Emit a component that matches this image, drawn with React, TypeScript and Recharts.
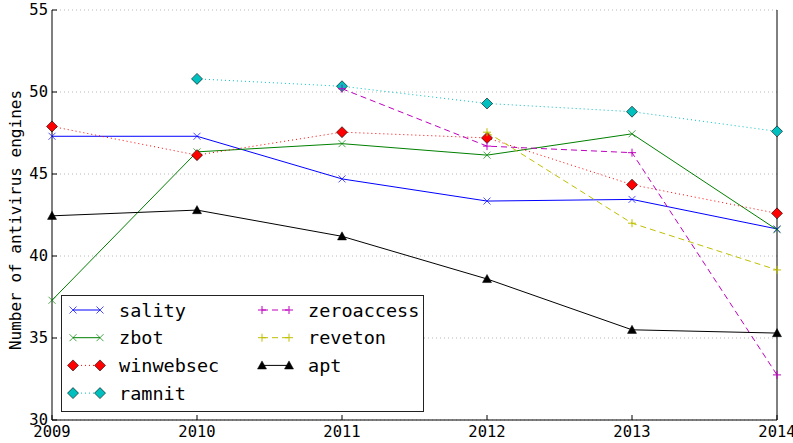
import React from 'react';
import {
  LineChart,
  Line,
  XAxis,
  YAxis,
  CartesianGrid,
  Legend,
} from 'recharts';

if (typeof document !== 'undefined') document.body.style.margin = '0';

// values
const years = [2009, 2010, 2011, 2012, 2013, 2014];
const sality = [47.3, 47.3, 44.7, 43.35, 43.45, 41.65];
const zbot = [37.3, 46.35, 46.85, 46.15, 47.45, 41.6];
const winwebsec = [47.9, 46.15, 47.55, 47.2, 44.35, 42.6];
const ramnit = [null, 50.8, 50.35, 49.3, 48.8, 47.6];
const zeroaccess = [null, null, 50.2, 46.7, 46.3, 32.75];
const reveton = [null, null, null, 47.55, 42.0, 39.15];
const apt = [42.45, 42.8, 41.2, 38.6, 35.5, 35.3];

const yTicks = [30, 35, 40, 45, 50, 55];

type Marker = 'x' | 'diamond' | 'plus' | 'triangle';

const SERIES: { key: string; values: (number | null)[]; color: string; dash?: string; marker: Marker }[] = [
  { key: 'sality', values: sality, color: '#0000ff', marker: 'x' },
  { key: 'zbot', values: zbot, color: '#008000', marker: 'x' },
  { key: 'winwebsec', values: winwebsec, color: '#ff0000', dash: '1 3', marker: 'diamond' },
  { key: 'ramnit', values: ramnit, color: '#00bfbf', dash: '1 3', marker: 'diamond' },
  { key: 'zeroaccess', values: zeroaccess, color: '#bf00bf', dash: '6 4', marker: 'plus' },
  { key: 'reveton', values: reveton, color: '#bfbf00', dash: '6 4', marker: 'plus' },
  { key: 'apt', values: apt, color: '#000000', marker: 'triangle' },
];

const data = years.map((year, i) => {
  const row: Record<string, number | null> = { year };
  SERIES.forEach(s => {
    row[s.key] = s.values[i];
  });
  return row;
});

const FONT = '"DejaVu Sans Mono", monospace';

function MarkerShape({ cx, cy, type, color }: { cx: number; cy: number; type: Marker; color: string }) {
  if (type === 'x') {
    const r = 3.5;
    return (
      <g stroke={color} strokeWidth={1} strokeOpacity={0.7}>
        <line x1={cx - r} y1={cy - r} x2={cx + r} y2={cy + r} />
        <line x1={cx - r} y1={cy + r} x2={cx + r} y2={cy - r} />
      </g>
    );
  }
  if (type === 'plus') {
    const r = 4;
    return (
      <g stroke={color} strokeWidth={1}>
        <line x1={cx - r} y1={cy} x2={cx + r} y2={cy} />
        <line x1={cx} y1={cy - r} x2={cx} y2={cy + r} />
      </g>
    );
  }
  if (type === 'diamond') {
    const r = 5.5;
    return (
      <polygon
        points={`${cx},${cy - r} ${cx + r},${cy} ${cx},${cy + r} ${cx - r},${cy}`}
        fill={color}
        stroke="#000"
        strokeWidth={0.6}
      />
    );
  }
  const r = 4.5;
  return (
    <polygon
      points={`${cx},${cy - r} ${cx + r},${cy + r * 0.8} ${cx - r},${cy + r * 0.8}`}
      fill={color}
      stroke={color}
      strokeWidth={0.5}
    />
  );
}

const makeDot = (type: Marker, color: string) => (props: any) => {
  const { cx, cy, index, value } = props;
  if (value == null || cx == null || cy == null) return <g key={`d-${index}`} />;
  return (
    <g key={`d-${index}`}>
      <MarkerShape cx={cx} cy={cy} type={type} color={color} />
    </g>
  );
};

const BottomTick = (props: any) => {
  const { x, y, payload } = props;
  return (
    <g>
      <line x1={x} y1={y} x2={x} y2={y - 5} stroke="#000" />
      <text x={x} y={y + 12} textAnchor="middle" dominantBaseline="central" fontFamily={FONT} fontSize={15.5} fill="#000">
        {payload.value}
      </text>
    </g>
  );
};

const LeftTick = (props: any) => {
  const { x, y, payload } = props;
  return (
    <g>
      <line x1={x} y1={y} x2={x + 5} y2={y} stroke="#000" />
      <text x={x - 4} y={y} textAnchor="end" dominantBaseline="central" fontFamily={FONT} fontSize={15.5} fill="#000">
        {payload.value}
      </text>
    </g>
  );
};

const TopTick = (props: any) => {
  const { x, y } = props;
  return <line x1={x} y1={y} x2={x} y2={y + 5} stroke="#000" />;
};

const RightTick = (props: any) => {
  const { x, y } = props;
  return <line x1={x} y1={y} x2={x - 5} y2={y} stroke="#000" />;
};

function LegendBox() {
  const rows = 4;
  const rowH = 27.7;
  const cols = [12, 201];
  return (
    <svg width={363} height={117} style={{ display: 'block' }}>
      <rect x={0.5} y={0.5} width={362} height={116} fill="#fff" stroke="#222" strokeWidth={1} />
      {SERIES.map((s, i) => {
        const col = Math.floor(i / rows);
        const row = i % rows;
        const x0 = cols[col];
        const y = 15 + row * rowH;
        return (
          <g key={s.key}>
            <line x1={x0} y1={y} x2={x0 + 27} y2={y} stroke={s.color} strokeWidth={1} strokeDasharray={s.dash} />
            <MarkerShape cx={x0} cy={y} type={s.marker} color={s.color} />
            <MarkerShape cx={x0 + 27} cy={y} type={s.marker} color={s.color} />
            <text x={x0 + 46} y={y} dominantBaseline="central" fontFamily={FONT} fontSize={18.5} fill="#000">
              {s.key}
            </text>
          </g>
        );
      })}
    </svg>
  );
}

export default function App() {
  return (
    <div style={{ width: 793, height: 443, background: '#fff' }}>
      <LineChart width={793} height={443} data={data} margin={{ top: 10, right: 0, left: 0, bottom: 0 }}>
        <CartesianGrid vertical={false} strokeDasharray="1 3" stroke="#b8b8b8" />
        <XAxis
          dataKey="year"
          type="number"
          domain={[2009, 2014]}
          ticks={years}
          height={23}
          axisLine={{ stroke: '#000' }}
          tickLine={false}
          tickSize={0}
          tickMargin={0}
          tick={<BottomTick />}
          interval={0}
        />
        <XAxis
          xAxisId="top"
          dataKey="year"
          type="number"
          orientation="top"
          domain={[2009, 2014]}
          ticks={years}
          height={0}
          axisLine={{ stroke: '#000' }}
          tickLine={false}
          tickSize={0}
          tickMargin={0}
          tick={<TopTick />}
          interval={0}
        />
        <YAxis
          type="number"
          domain={[30, 55]}
          ticks={yTicks}
          width={52}
          axisLine={{ stroke: '#000' }}
          tickLine={false}
          tickSize={0}
          tickMargin={0}
          tick={<LeftTick />}
          interval={0}
          label={{
            content: (p: any) => {
              const vb = p.viewBox || { x: 0, y: 10, height: 410 };
              const cx = 15;
              const cy = vb.y + vb.height / 2 + 5;
              return (
                <text
                  x={cx}
                  y={cy}
                  transform={`rotate(-90 ${cx} ${cy})`}
                  textAnchor="middle"
                  dominantBaseline="central"
                  fontFamily={FONT}
                  fontSize={16}
                  fill="#000"
                >
                  Number of antivirus engines
                </text>
              );
            },
          }}
        />
        <YAxis
          yAxisId="right"
          type="number"
          orientation="right"
          domain={[30, 55]}
          ticks={yTicks}
          width={16}
          axisLine={{ stroke: '#000' }}
          tickLine={false}
          tickSize={0}
          tickMargin={0}
          tick={<RightTick />}
          interval={0}
        />
        {SERIES.map(s => (
          <Line
            key={s.key}
            dataKey={s.key}
            type="linear"
            stroke={s.color}
            strokeWidth={1}
            strokeDasharray={s.dash}
            dot={makeDot(s.marker, s.color)}
            activeDot={false}
            isAnimationActive={false}
          />
        ))}
        <Legend
          layout="horizontal"
          verticalAlign="middle"
          align="center"
          wrapperStyle={{ left: 61, top: 295, width: 363, height: 117 }}
          content={() => <LegendBox />}
        />
      </LineChart>
    </div>
  );
}
